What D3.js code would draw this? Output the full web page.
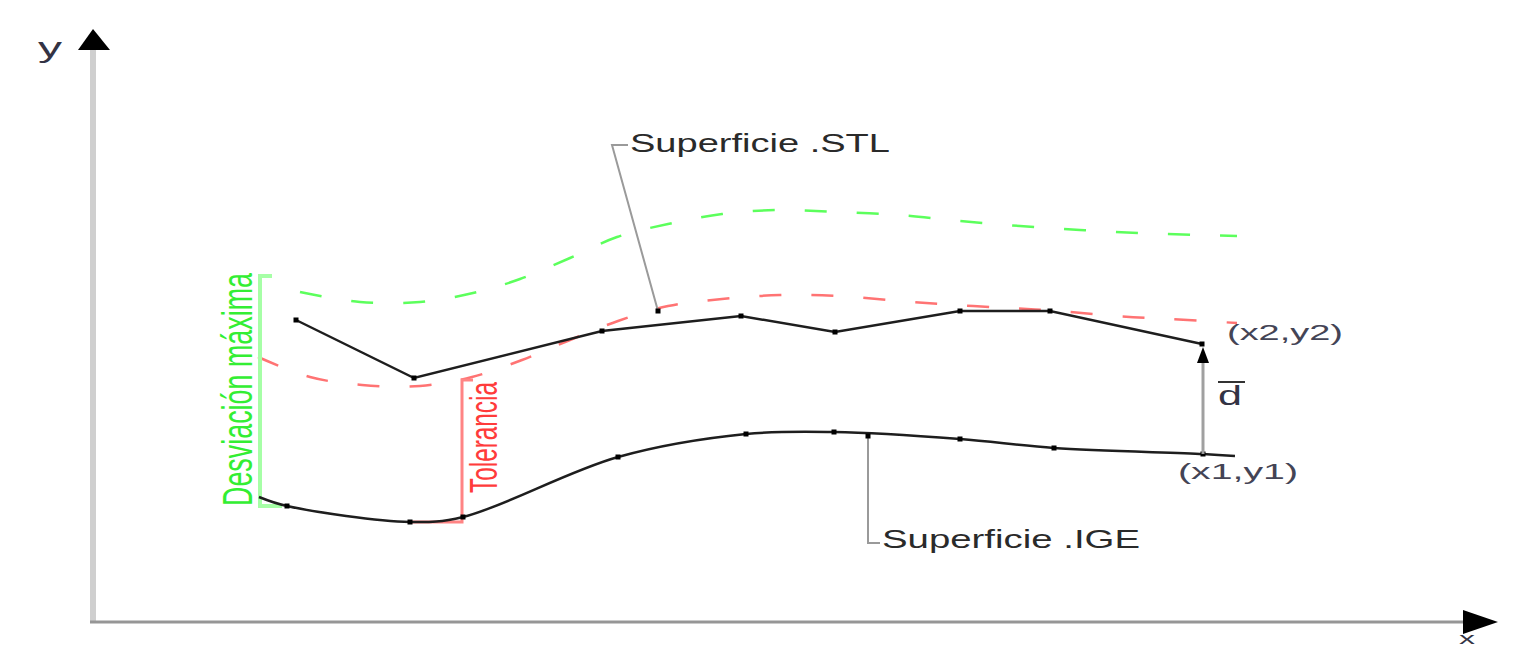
<!DOCTYPE html>
<html>
<head>
<meta charset="utf-8">
<script src="https://cdn.jsdelivr.net/npm/d3@7"></script>
<style>
html,body{margin:0;padding:0;background:#fff;overflow:hidden;}
svg{display:block;}
text{font-family:"Liberation Sans",Arial,sans-serif;}
</style>
</head>
<body>
<svg id="chart" width="1521" height="647"></svg>
<script>
// ---- data (schematic units; origin at the axes' crossing) ----
const stlX = [203, 321, 509, 648, 742, 867, 957, 1109];
const stlY = [303, 245, 292, 307, 291, 312, 312, 279];

const igeX = [166, 194, 317, 370, 525, 653, 741, 867, 961, 1110, 1142];
const igeY = [126, 117, 101, 106, 166, 189, 191, 184, 175, 169, 167];

const tolX = [165, 217, 269, 327, 379, 429, 477, 525, 575, 629, 687, 747, 807, 862, 917, 967, 1022, 1077, 1144];
const tolY = [266, 246, 238, 237, 246, 263, 283, 302, 317, 324, 328, 327, 322, 318, 315, 312, 307, 304, 300];

const devX = [207, 267, 327, 380, 427, 477, 524, 575, 629, 685, 745, 807, 867, 927, 987, 1047, 1107, 1144];
const devY = [331, 321, 321, 330, 344, 365, 386, 399, 409, 413, 411, 408, 402, 397, 393, 390, 388, 387];

const axisLabels = ["x", "y"];
const surfaceLabels = ["Superficie .STL", "Superficie .IGE"];
const pointLabels = ["(x2,y2)", "(x1,y1)"];
const bracketLabels = ["Desviación máxima", "Tolerancia"];
const vectorLabel = "d";

// ---- scales ----
const x = d3.scaleLinear().domain([0, 1405]).range([93, 1498]);
const y = d3.scaleLinear().domain([0, 600]).range([623, 23]);

const svg = d3.select("#chart");
const zip = (xs, ys) => xs.map((v, i) => [v, ys[i]]);
const line = d3.line().x(d => x(d[0])).y(d => y(d[1]));
const smooth = d3.line().x(d => x(d[0])).y(d => y(d[1])).curve(d3.curveCatmullRom.alpha(0.5));

// ---- axes ----
svg.append("line").attr("x1", x(0)).attr("x2", x(0)).attr("y1", y(0)).attr("y2", y(575))
  .attr("stroke", "#cfcfcf").attr("stroke-width", 6);
svg.append("line").attr("x1", x(0) - 3).attr("x2", x(1372)).attr("y1", y(1)).attr("y2", y(1))
  .attr("stroke", "#969696").attr("stroke-width", 3);
svg.append("path")
  .attr("d", `M${x(0)},${y(594)} L${x(-15)},${y(573)} L${x(17)},${y(573)} Z`)
  .attr("fill", "#000");
svg.append("path")
  .attr("d", `M${x(1405)},${y(1)} L${x(1370)},${y(13)} L${x(1370)},${y(-11)} Z`)
  .attr("fill", "#000");
svg.append("text").text(axisLabels[1]).attr("x", x(-55)).attr("y", y(566))
  .attr("font-size", 27).attr("textLength", 24).attr("lengthAdjust", "spacingAndGlyphs").attr("fill", "#334");
svg.append("text").text(axisLabels[0]).attr("x", x(1366)).attr("y", y(-21))
  .attr("font-size", 16).attr("textLength", 16).attr("lengthAdjust", "spacingAndGlyphs").attr("fill", "#334");

// ---- dashed offset curves ----
svg.append("path").attr("d", smooth(zip(devX, devY)))
  .attr("fill", "none").attr("stroke", "#5cff5c").attr("stroke-width", 2.5).attr("stroke-dasharray", "22,30");
svg.append("path").attr("d", smooth(zip(tolX, tolY)))
  .attr("fill", "none").attr("stroke", "#ff7373").attr("stroke-width", 2.5).attr("stroke-dasharray", "22,30");

// ---- brackets ----
const gB = svg.append("g").attr("fill", "none").attr("stroke", "#a6ffa6").attr("stroke-width", 4);
gB.append("path").attr("d", `M${x(179)},${y(347)} L${x(167)},${y(347)} L${x(167)},${y(117)} L${x(189)},${y(117)}`);
const rB = svg.append("g").attr("fill", "none").attr("stroke", "#ff8484").attr("stroke-width", 3);
rB.append("path").attr("d", `M${x(380)},${y(243)} L${x(369)},${y(243)} L${x(369)},${y(101)} L${x(319)},${y(101)}`);

// ---- leaders ----
const lead = svg.append("g").attr("fill", "none").attr("stroke", "#9a9a9a").attr("stroke-width", 2);
lead.append("path").attr("d", `M${x(565)},${y(312)} L${x(519)},${y(478)} L${x(535)},${y(478)}`);
lead.append("path").attr("d", `M${x(775)},${y(187)} L${x(775)},${y(80)} L${x(787)},${y(80)}`);

// ---- surfaces ----
svg.append("path").attr("d", smooth(zip(igeX, igeY)))
  .attr("fill", "none").attr("stroke", "#1e1e1e").attr("stroke-width", 2.5);
svg.append("path").attr("d", line(zip(stlX, stlY)))
  .attr("fill", "none").attr("stroke", "#1e1e1e").attr("stroke-width", 2.5);

const markers = zip(stlX, stlY).concat(zip(igeX, igeY).slice(1, -1))
  .concat([[565, 312], [775, 187]]);
svg.append("g").selectAll("rect").data(markers).join("rect")
  .attr("x", d => x(d[0]) - 2.5).attr("y", d => y(d[1]) - 2.5)
  .attr("width", 5).attr("height", 5).attr("fill", "#000");

// ---- vector d ----
svg.append("line").attr("x1", x(1110)).attr("x2", x(1110)).attr("y1", y(169)).attr("y2", y(263))
  .attr("stroke", "#a0a0a0").attr("stroke-width", 3);
svg.append("path")
  .attr("d", `M${x(1110)},${y(276)} L${x(1104)},${y(260)} L${x(1116)},${y(260)} Z`).attr("fill", "#000");
svg.append("text").text(vectorLabel).attr("x", x(1125)).attr("y", y(218))
  .attr("font-size", 27).attr("textLength", 24).attr("lengthAdjust", "spacingAndGlyphs").attr("fill", "#334");
svg.append("line").attr("x1", x(1125)).attr("x2", x(1152)).attr("y1", y(241)).attr("y2", y(241))
  .attr("stroke", "#333").attr("stroke-width", 2);

// ---- labels ----
const lab = (t, px, py, fs, len, col) => svg.append("text").text(t)
  .attr("x", x(px)).attr("y", y(py)).attr("font-size", fs)
  .attr("textLength", len).attr("lengthAdjust", "spacingAndGlyphs").attr("fill", col);
lab(surfaceLabels[0], 537, 471, 25, 260, "#2a2a2a");
lab(surfaceLabels[1], 789, 75, 25, 258, "#2a2a2a");
lab(pointLabels[0], 1134, 283, 22, 116, "#445");
lab(pointLabels[1], 1085, 144, 22, 120, "#445");

// rotated bracket labels
svg.append("text").text(bracketLabels[0])
  .attr("transform", `translate(${x(159)},${y(117)}) scale(1.6,1) rotate(-90)`)
  .attr("font-size", 27).attr("textLength", 233).attr("lengthAdjust", "spacingAndGlyphs")
  .attr("fill", "#33ee33");
svg.append("text").text(bracketLabels[1])
  .attr("transform", `translate(${x(404)},${y(130)}) scale(1.65,1) rotate(-90)`)
  .attr("font-size", 24).attr("textLength", 111).attr("lengthAdjust", "spacingAndGlyphs")
  .attr("fill", "#ff3b3b");
</script>
</body>
</html>
